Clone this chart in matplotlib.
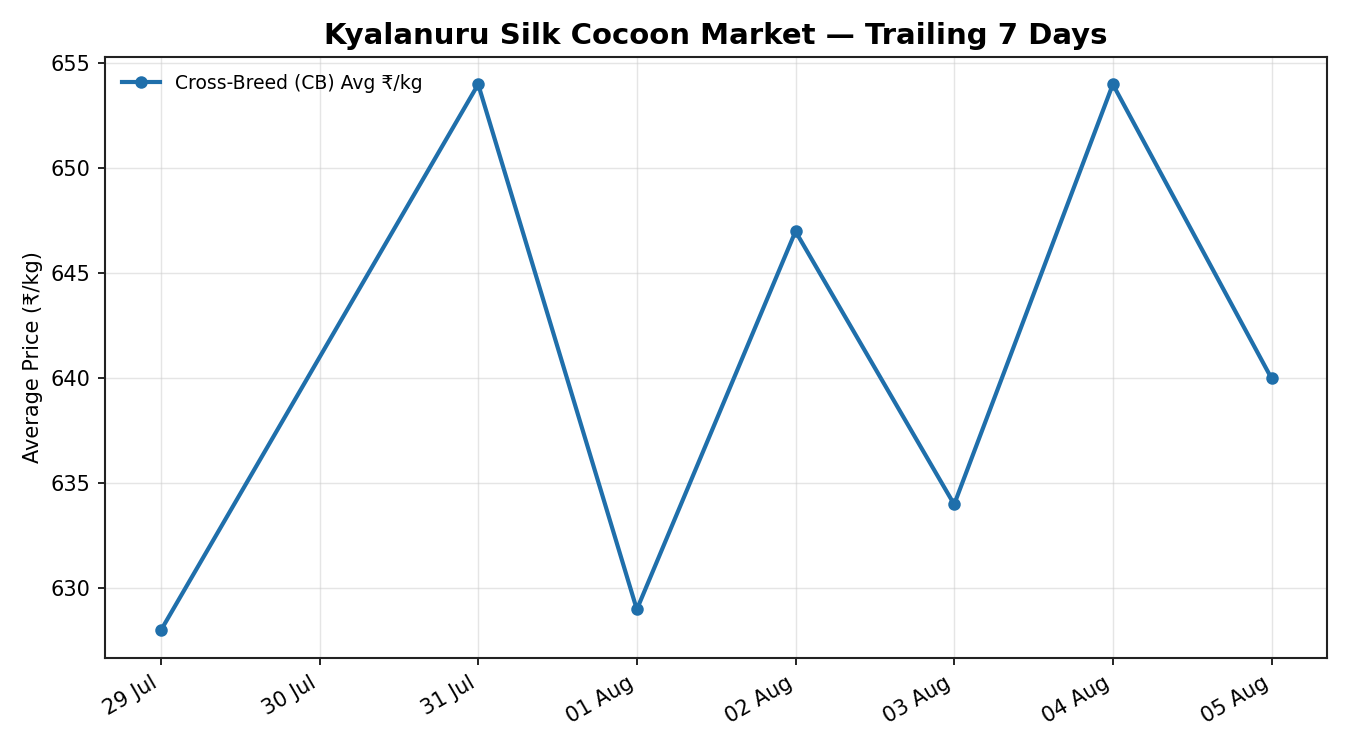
import matplotlib
matplotlib.use("Agg")
import matplotlib.pyplot as plt
import matplotlib.dates as mdates
import pandas as pd

plt.rcParams["font.family"] = ["DejaVu Sans"]

dates = ["2025-07-29", "2025-07-31", "2025-08-01", "2025-08-02", "2025-08-03", "2025-08-04", "2025-08-05"]
prices = [628, 654, 629, 647, 634, 654, 640]
series_label = "Cross-Breed (CB) Avg ₹/kg"

x = pd.to_datetime(dates)

fig, ax = plt.subplots(figsize=(9, 5), dpi=150)
ax.plot(x, prices, color="#1f6fab", linewidth=2.0, marker="o", markersize=5, label=series_label)

ax.set_title("Kyalanuru Silk Cocoon Market — Trailing 7 Days", fontsize=14, fontweight="bold")
ax.set_ylabel("Average Price (₹/kg)", fontsize=10)
ax.xaxis.set_major_locator(mdates.DayLocator())
ax.xaxis.set_major_formatter(mdates.DateFormatter("%d %b"))
ax.tick_params(labelsize=10)
ax.grid(True, color="#cccccc", alpha=0.5, linewidth=0.7)
for s in ax.spines.values():
    s.set_color("#222222")
    s.set_linewidth(1.0)
ax.legend(loc="upper left", frameon=False, fontsize=9)
fig.autofmt_xdate(rotation=30, ha="right")
fig.subplots_adjust(left=0.078, right=0.983, top=0.924, bottom=0.123)
fig.savefig("out.png", dpi=150)
